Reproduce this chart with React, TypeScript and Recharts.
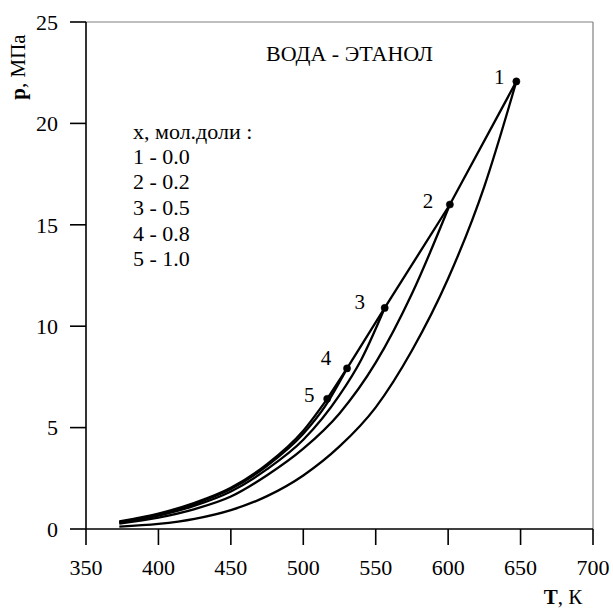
import React from 'react';
import { LineChart, Line, XAxis, YAxis, ReferenceLine } from 'recharts';

// ---- data ----
const xTicks = [350, 400, 450, 500, 550, 600, 650, 700];
const yTicks = [0, 5, 10, 15, 20, 25];

// curve 1: x = 0.0 (water)
const c1T = [373, 400, 425, 450, 475, 500, 525, 550, 575, 600, 625, 647.1];
const c1P = [0.12, 0.25, 0.5, 0.93, 1.62, 2.64, 4.07, 6.0, 8.8, 12.35, 16.9, 22.07];
// curve 2: x = 0.2
const c2T = [373, 400, 425, 450, 475, 500, 525, 550, 575, 601.2];
const c2P = [0.27, 0.56, 0.98, 1.6, 2.65, 3.96, 5.7, 8.2, 11.6, 16.0];
// curve 3: x = 0.5
const c3T = [373, 400, 425, 450, 475, 500, 525, 540, 556.2];
const c3P = [0.31, 0.66, 1.15, 1.85, 2.95, 4.4, 6.6, 8.35, 10.9];
// curve 4: x = 0.8
const c4T = [373, 400, 425, 450, 475, 500, 515, 530.2];
const c4P = [0.34, 0.72, 1.24, 1.97, 3.12, 4.7, 6.05, 7.92];
// curve 5: x = 1.0 (ethanol)
const c5T = [373, 400, 425, 450, 475, 500, 516.5];
const c5P = [0.37, 0.76, 1.29, 2.03, 3.2, 4.85, 6.42];
// critical locus
const critT = [647.1, 601.2, 556.2, 530.2, 516.5];
const critP = [22.07, 16.0, 10.9, 7.92, 6.42];
const critLabels = ['1', '2', '3', '4', '5'];

const legendIds = ['1', '2', '3', '4', '5'];
const legendFractions = ['0.0', '0.2', '0.5', '0.8', '1.0'];
const legendHeader = 'x, мол.доли :';
const titleText = 'ВОДА - ЭТАНОЛ';

// ---- styling ----
const FONT = 'Liberation Serif, DejaVu Serif, Times New Roman, serif';
const labelOffsets = [
  [-17, -4],
  [-22, -4],
  [-25, -6],
  [-21, -10],
  [-18, -4],
];

const rows = (t: number[], p: number[]) => t.map((T, i) => ({ T, p: p[i] }));
const curves = [rows(c1T, c1P), rows(c2T, c2P), rows(c3T, c3P), rows(c4T, c4P), rows(c5T, c5P)];
const locus = rows(critT, critP);

const renderCritLabel = (props: any) => {
  const { x, y, index } = props;
  const off = labelOffsets[index] || [0, 0];
  return (
    <text
      key={`cl-${index}`}
      x={x + off[0]}
      y={y + off[1]}
      textAnchor="middle"
      dominantBaseline="central"
      style={{ fontFamily: FONT, fontSize: 21 }}
      fill="#000"
    >
      {critLabels[index]}
    </text>
  );
};

export default function App() {
  const tickStyle = { fill: '#000', fontSize: 22, fontFamily: FONT };
  const txt = { fontFamily: FONT, fontSize: 22 };
  return (
    <div style={{ position: 'absolute', left: 0, top: 0, width: 613, height: 609, background: '#fff', fontFamily: FONT }}>
      <LineChart width={613} height={609} margin={{ top: 22, right: 20, bottom: 0, left: 0 }} style={{ fontFamily: FONT }}>
        <XAxis
          type="number"
          dataKey="T"
          domain={[350, 700]}
          ticks={xTicks}
          allowDataOverflow
          height={80}
          tickSize={16}
          tickMargin={14}
          axisLine={{ stroke: '#000', strokeWidth: 1.6 }}
          tickLine={{ stroke: '#000', strokeWidth: 1.6 }}
          tick={tickStyle}
          interval={0}
        />
        <YAxis
          type="number"
          dataKey="p"
          domain={[0, 25]}
          ticks={yTicks}
          allowDataOverflow
          width={86}
          tickSize={16}
          tickMargin={12}
          axisLine={{ stroke: '#000', strokeWidth: 1.6 }}
          tickLine={{ stroke: '#000', strokeWidth: 1.6 }}
          tick={tickStyle}
          interval={0}
        />
        <ReferenceLine y={25} stroke="#808080" strokeWidth={1.2} />
        <ReferenceLine x={700} stroke="#808080" strokeWidth={1.2} />
        {curves.map((d, i) => (
          <Line
            key={`c${i}`}
            data={d}
            dataKey="p"
            type="monotone"
            stroke="#000"
            strokeWidth={2.3}
            dot={false}
            activeDot={false}
            isAnimationActive={false}
          />
        ))}
        <Line
          data={locus}
          dataKey="p"
          type="linear"
          stroke="#000"
          strokeWidth={2.3}
          dot={{ r: 3.6, fill: '#000', stroke: '#000', strokeWidth: 0.5 }}
          activeDot={false}
          label={renderCritLabel}
          isAnimationActive={false}
        />
      </LineChart>
      <svg
        width={613}
        height={609}
        style={{ position: 'absolute', left: 0, top: 0, pointerEvents: 'none' }}
      >
        <text x={266} y={53} style={txt} dominantBaseline="central" fill="#000">
          {titleText}
        </text>
        <text x={133} y={131} style={txt} dominantBaseline="central" fill="#000">
          {legendHeader}
        </text>
        {legendIds.map((id, i) => (
          <text key={id} x={133} y={156 + i * 25.7} style={txt} dominantBaseline="central" fill="#000">
            {`${id} - ${legendFractions[i]}`}
          </text>
        ))}
        <text
          transform="translate(18,67) rotate(-90)"
          textAnchor="middle"
          dominantBaseline="central"
          style={{ ...txt, fontSize: 21 }}
          fill="#000"
        >
          <tspan fontWeight="bold">p</tspan>, МПа
        </text>
        <text x={563} y={597} textAnchor="middle" dominantBaseline="central" style={{ ...txt, fontSize: 21 }} fill="#000">
          <tspan fontWeight="bold">T</tspan>, К
        </text>
      </svg>
    </div>
  );
}
